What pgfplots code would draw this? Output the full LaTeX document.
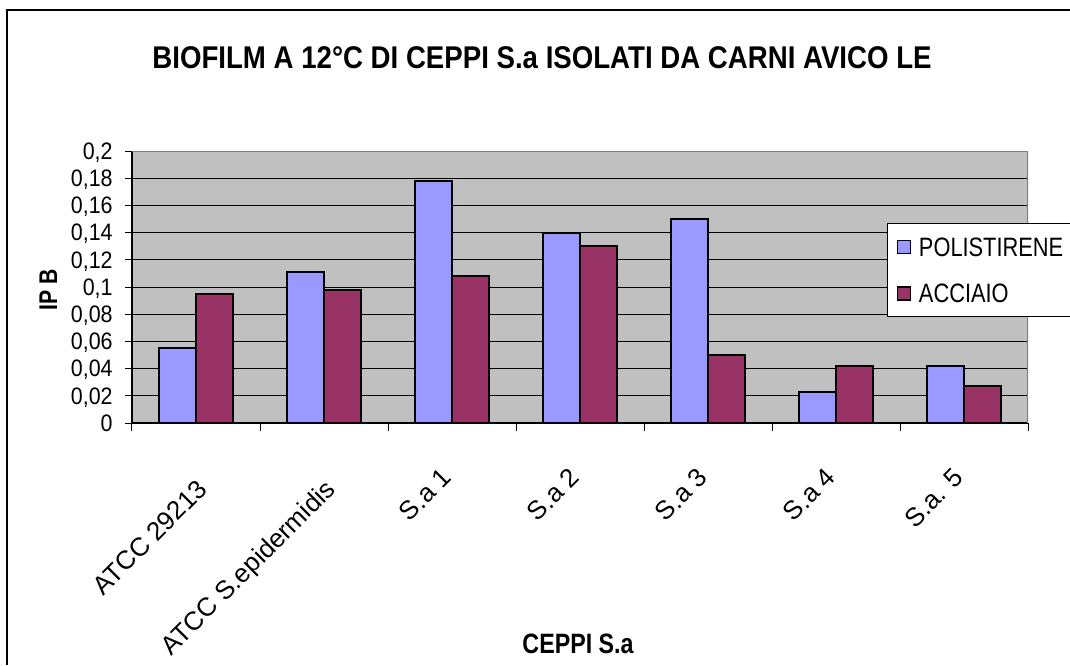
\documentclass[border=0pt]{standalone}
\usepackage{fontspec}
\setmainfont{Liberation Sans}[FakeStretch=0.9]
\newfontfamily\titlefont{Liberation Sans}[FakeStretch=0.88]
\newfontfamily\labfont{Liberation Sans}[FakeStretch=0.83]
\newfontfamily\legfont{Liberation Sans}[FakeStretch=0.82]
\newfontfamily\tickfont{Liberation Sans}
\usepackage{pgfplots}
\pgfplotsset{compat=1.18}
\definecolor{plotgray}{HTML}{C0C0C0}
\definecolor{bordergray}{HTML}{808080}
\definecolor{polblue}{HTML}{9999FF}
\definecolor{accred}{HTML}{993366}
\pgfplotsset{
  sqlegend/.style={legend image code/.code={%
    \draw[##1,/tikz/.cd,line width=0.7pt] (0pt,-3.25pt) rectangle (6.5pt,3.25pt);}},
}
% long category names sit a line lower, as in the original sheet
\newcommand\low[1]{\raisebox{-8pt}[9.4pt][0pt]{#1}}
\begin{document}
\begin{tikzpicture}
\useasboundingbox (0,0) rectangle (535pt,332.5pt);
\draw[line width=1pt] (3.5pt,0) -- (3.5pt,327.5pt) -- (535pt,327.5pt);
\begin{axis}[
  at={(66pt,121pt)}, anchor=south west,
  scale only axis, width=448pt, height=136pt,
  xmin=-0.5, xmax=6.5, ymin=0, ymax=0.2,
  axis lines=left, axis line style={-, line width=0.6pt},
  axis background/.style={fill=plotgray},
  tick align=outside,
  tick style={black, line width=0.5pt},
  xtick={0,...,6},
  xticklabels={\low{ATCC 29213}, \low{ATCC S.epidermidis}, S.a 1, S.a 2, S.a 3, S.a 4, S.a. 5},
  major x tick style={draw=none},
  minor xtick={-0.5,0.5,...,6.5},
  minor tick length=4pt,
  ytick={0,0.02,0.04,0.06,0.08,0.1,0.12,0.14,0.16,0.18,0.2},
  major tick length=3.5pt,
  scaled y ticks=false,
  /pgf/number format/.cd, fixed, precision=2, use comma, assume math mode=true,
  /pgfplots/.cd,
  tick label style={font=\fontsize{11.9}{13}\selectfont},
  yticklabel style={anchor=east, inner sep=0pt, text depth=0pt, xshift=-6pt},
  xticklabel style={yshift=-18pt, xshift=-6pt, rotate=45, anchor=north east, inner sep=0pt,
    font=\tickfont\fontsize{13}{14}\selectfont},
  ymajorgrids, grid style={black, line width=0.5pt},
  title={BIOFILM A 12°C DI CEPPI S.a ISOLATI DA CARNI AVICO LE},
  title style={at={(axis description cs:0.4576,1.305)}, anchor=base, inner sep=0pt,
    yshift=-6pt, font=\titlefont\bfseries\fontsize{15.7}{17}\selectfont},
  xlabel={CEPPI S.a},
  xlabel style={at={(axis description cs:0.4978,-0.8456)}, anchor=base, inner sep=0pt,
    font=\labfont\bfseries\fontsize{14}{15}\selectfont},
  ylabel={IP B},
  ylabel style={at={(axis description cs:-0.0837,0.489)}, anchor=base, inner sep=0pt,
    font=\labfont\bfseries\fontsize{12.8}{14}\selectfont},
  legend style={at={(0.8426,0.735)}, anchor=north west, draw=black, line width=0.6pt,
    fill=white, font=\legfont\fontsize{13.3}{14}\selectfont,
    inner xsep=4.5pt, inner ysep=7pt, row sep=14pt,
    cells={anchor=west}, nodes={inner sep=0pt, text depth=0pt}},
]
\addplot[ybar, bar width=0.29, bar shift=-0.145, fill=polblue, draw=black,
  line width=0.9pt, sqlegend] coordinates {
  (0,0.055) (1,0.111) (2,0.178) (3,0.140) (4,0.150) (5,0.023) (6,0.042)};
\addlegendentry{\hspace*{4pt}POLISTIRENE}
\addplot[ybar, bar width=0.29, bar shift=0.145, fill=accred, draw=black,
  line width=0.9pt, sqlegend] coordinates {
  (0,0.095) (1,0.098) (2,0.108) (3,0.130) (4,0.050) (5,0.042) (6,0.027)};
\addlegendentry{\hspace*{4pt}ACCIAIO}
\draw[bordergray, line width=0.8pt] (rel axis cs:0,1) -- (rel axis cs:1,1) -- (rel axis cs:1,0);
\end{axis}
\end{tikzpicture}
\end{document}
